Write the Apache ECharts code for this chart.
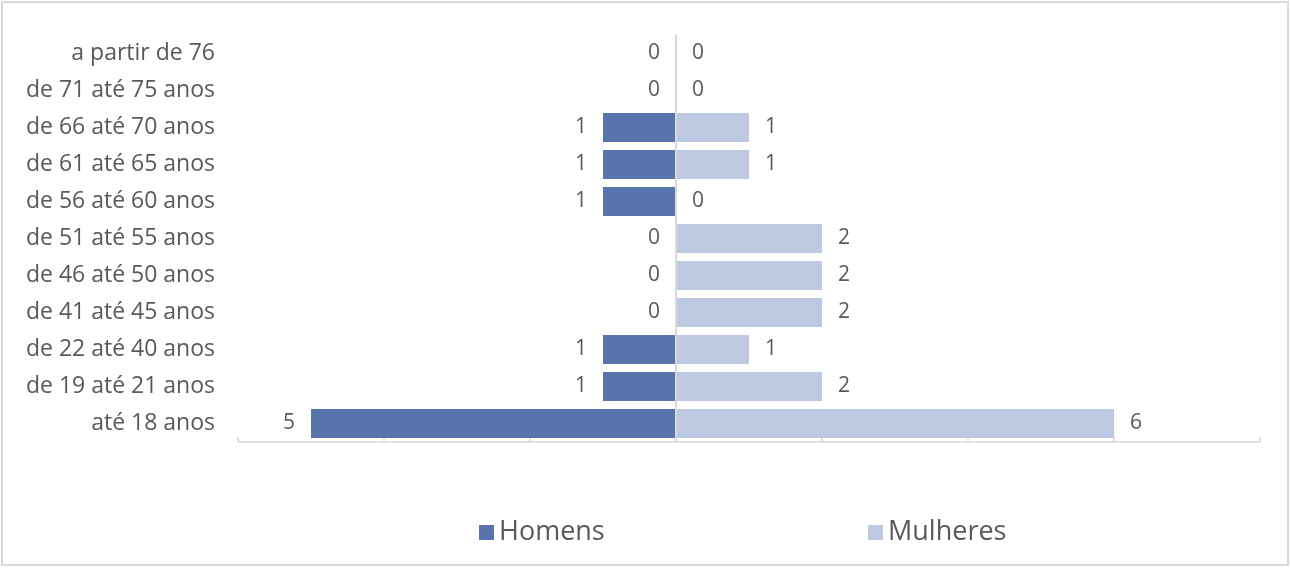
<!DOCTYPE html>
<html>
<head>
<meta charset="utf-8">
<script src="https://cdn.jsdelivr.net/npm/echarts@6/dist/echarts.min.js"></script>
<style>
  html, body { margin: 0; padding: 0; background: #fff; }
  #chart { width: 1291px; height: 568px; }
</style>
</head>
<body>
<div id="chart"></div>
<script>
// faixas etárias, de baixo para cima
const categories = [
  'até 18 anos', 'de 19 até 21 anos', 'de 22 até 40 anos', 'de 41 até 45 anos',
  'de 46 até 50 anos', 'de 51 até 55 anos', 'de 56 até 60 anos', 'de 61 até 65 anos',
  'de 66 até 70 anos', 'de 71 até 75 anos', 'a partir de 76'
]
const homens = [5, 1, 1, 0, 0, 0, 1, 1, 1, 0, 0]
const mulheres = [6, 2, 1, 2, 2, 2, 0, 1, 1, 0, 0]

const corHomens = '#5874ad'
const corMulheres = '#bdc9e1'
const cinza = '#595959'
const fonte = '"Open Sans", sans-serif'

const chart = echarts.init(document.getElementById('chart'))
chart.setOption({
  animation: false,
  textStyle: { fontFamily: fonte },
  grid: { left: 238, right: 31, top: 35, bottom: 126 },
  graphic: [{
    type: 'rect',
    shape: { x: 2, y: 2, width: 1286, height: 563 },
    style: { fill: 'none', stroke: '#d9d9d9', lineWidth: 2 },
    silent: true
  }],
  legend: [
    {
      left: 474, top: 514, itemWidth: 15, itemHeight: 15, icon: 'rect',
      data: ['Homens'], selectedMode: false,
      textStyle: { color: cinza, fontSize: 27, fontFamily: fonte }
    },
    {
      left: 863, top: 514, itemWidth: 15, itemHeight: 15, icon: 'rect',
      data: ['Mulheres'], selectedMode: false,
      textStyle: { color: cinza, fontSize: 27, fontFamily: fonte }
    }
  ],
  xAxis: {
    type: 'value',
    min: -6,
    max: 8,
    interval: 2,
    axisLabel: { show: false },
    splitLine: { show: false },
    axisLine: { show: true, lineStyle: { color: '#d9d9d9', width: 1.5 } },
    axisTick: { show: true, inside: true, length: 5, lineStyle: { color: '#d9d9d9', width: 1.5 } }
  },
  yAxis: {
    type: 'category',
    data: categories,
    axisLine: { show: false, onZero: false },
    axisTick: { show: false },
    axisLabel: { color: cinza, fontSize: 23, margin: 23, fontFamily: fonte }
  },
  series: [
    {
      name: 'Homens',
      type: 'bar',
      barWidth: 29,
      barGap: '-100%',
      itemStyle: { color: corHomens },
      label: {
        show: true, position: 'left', distance: 16,
        color: cinza, fontSize: 21, fontFamily: fonte,
        formatter: p => Math.abs(p.value)
      },
      data: homens.map(v => -v),
      markLine: {
        silent: true,
        symbol: 'none',
        label: { show: false },
        lineStyle: { color: '#d9d9d9', width: 2, type: 'solid' },
        data: [{ xAxis: 0 }]
      }
    },
    {
      name: 'Mulheres',
      type: 'bar',
      barWidth: 29,
      barGap: '-100%',
      itemStyle: { color: corMulheres },
      label: {
        show: true, position: 'right', distance: 16,
        color: cinza, fontSize: 21, fontFamily: fonte
      },
      data: mulheres
    }
  ]
})
</script>
</body>
</html>
